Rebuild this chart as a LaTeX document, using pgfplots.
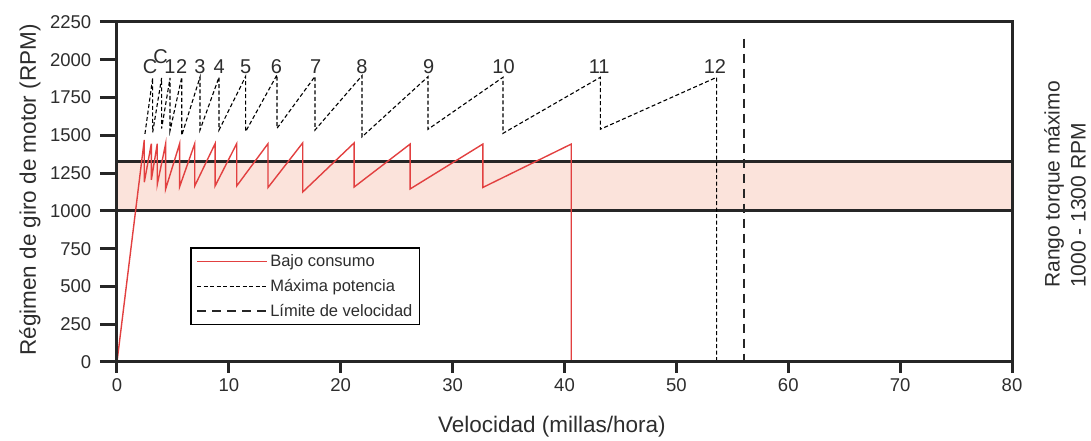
\documentclass[border=0pt]{standalone}
\usepackage{fontspec}
\setmainfont{Liberation Sans}
\usepackage{pgfplots}
\pgfplotsset{compat=1.18}
\definecolor{rojo}{RGB}{226,64,64}
\definecolor{banda}{RGB}{251,227,219}
\definecolor{texto}{RGB}{45,45,45}

\begin{document}
\begin{tikzpicture}
\begin{axis}[
  name=ax,
  scale only axis,
  width=895pt, height=340pt,
  xmin=0, xmax=80, ymin=0, ymax=2250,
  xtick={0,10,...,80},
  ytick={0,250,...,2250},
  axis line style={line width=3pt, black!85},
  tick align=outside,
  xtick pos=bottom, ytick pos=left,
  x tick style={line width=3pt, black!85, /pgfplots/major tick length=11pt},
  y tick style={line width=3pt, black!85, /pgfplots/major tick length=17pt},
  tick label style={font=\fontsize{18.5}{20}\selectfont, text=texto},
  xticklabel style={yshift=-8.5pt},
  yticklabel style={xshift=-18pt},
  /pgf/number format/assume math mode=true,
  /pgf/number format/1000 sep={},
  xlabel={Velocidad (millas/hora)},
  ylabel={Régimen de giro de motor (RPM)},
  x label style={at={(axis description cs:0.486,-0.191)}, anchor=center,
    font=\fontsize{22.5}{24}\selectfont, text=texto},
  y label style={at={(axis description cs:-0.0972,0.506)}, anchor=center,
    font=\fontsize{22.5}{24}\selectfont, text=texto},
  clip=false,
  axis on top,
  unbounded coords=jump,
  legend image code/.code={\draw[#1] (0pt,0pt) -- (70pt,0pt);},
  legend style={at={(rel axis cs:0.0816,0.338)}, anchor=north west,
    draw=black, line width=1.5pt, font=\fontsize{16.5}{18}\selectfont,
    text=texto, inner xsep=5pt, inner ysep=5pt, row sep=7pt,
    cells={anchor=west}},
]

% marcas de los ejes (11pt abajo, 17pt a la izquierda)
\addplot[line width=3pt, black!85, forget plot] coordinates {
  (0,0) (0,-72.8) (0,nan) (10,0) (10,-72.8) (10,nan)
  (20,0) (20,-72.8) (20,nan) (30,0) (30,-72.8) (30,nan)
  (40,0) (40,-72.8) (40,nan) (50,0) (50,-72.8) (50,nan)
  (60,0) (60,-72.8) (60,nan) (70,0) (70,-72.8) (70,nan)
  (80,0) (80,-72.8)
};
\addplot[line width=3pt, black!85, forget plot] coordinates {
  (0,0) (-1.52,0) (nan,0) (0,250) (-1.52,250) (nan,250)
  (0,500) (-1.52,500) (nan,500) (0,750) (-1.52,750) (nan,750)
  (0,1000) (-1.52,1000) (nan,1000) (0,1250) (-1.52,1250) (nan,1250)
  (0,1500) (-1.52,1500) (nan,1500) (0,1750) (-1.52,1750) (nan,1750)
  (0,2000) (-1.52,2000) (nan,2000) (0,2250) (-1.52,2250)
};

% banda de torque maximo
\addplot[fill=banda, draw=none, forget plot] coordinates {
  (0,1000) (80,1000) (80,1325) (0,1325)} -- cycle;
\addplot[line width=3pt, black!85, forget plot] coordinates {(0,1000) (80,1000)};
\addplot[line width=3pt, black!85, forget plot] coordinates {(0,1325) (80,1325)};

% Bajo consumo
\addplot[rojo, line width=1.4pt] coordinates {
  (0,0) (2.44,1470) (2.44,1190)
  (3.07,1445) (3.07,1205)
  (3.60,1445) (3.60,1175)
  (4.35,1445) (4.35,1145)
  (5.60,1445) (5.60,1160)
  (6.95,1445) (6.95,1165)
  (8.77,1445) (8.77,1165)
  (10.7,1445) (10.7,1165)
  (13.5,1445) (13.5,1155)
  (16.6,1450) (16.6,1125)
  (21.2,1450) (21.2,1158)
  (26.2,1442) (26.2,1145)
  (32.7,1442) (32.7,1155)
  (40.6,1442) (40.6,0)
};
\addlegendentry{Bajo consumo}

% Maxima potencia
\addplot[black, line width=1.1pt, dash pattern=on 4pt off 2.5pt] coordinates {
  (2.5,1510) (3.19,1880) (3.19,1520)
  (3.99,1880) (3.99,1545)
  (4.74,1880) (4.74,1530)
  (5.79,1885) (5.79,1500)
  (7.42,1885) (7.42,1535)
  (9.12,1885) (9.12,1535)
  (11.5,1890) (11.5,1525)
  (14.3,1900) (14.3,1546)
  (17.7,1890) (17.7,1535)
  (21.9,1895) (21.9,1490)
  (27.8,1888) (27.8,1540)
  (34.5,1884) (34.5,1513)
  (43.2,1884) (43.2,1540)
  (53.6,1884) (53.6,0)
};
\addlegendentry{Máxima potencia}

% Limite de velocidad
\addplot[black!85, line width=2.5pt, dash pattern=on 9pt off 6pt] coordinates {
  (56.05,2140) (56.05,0)};
\addlegendentry{Límite de velocidad}

% marchas
\begin{scope}[every node/.style={anchor=base, inner sep=0pt, text=texto,
    font=\fontsize{20}{20}\selectfont}]
\node at (axis cs:2.95,1911) {C};
\node at (axis cs:3.90,1975) {C};
\node at (axis cs:4.74,1911) {1};
\node at (axis cs:5.79,1911) {2};
\node at (axis cs:7.42,1911) {3};
\node at (axis cs:9.14,1911) {4};
\node at (axis cs:11.5,1911) {5};
\node at (axis cs:14.25,1911) {6};
\node at (axis cs:17.75,1911) {7};
\node at (axis cs:21.9,1911) {8};
\node at (axis cs:27.85,1911) {9};
\node at (axis cs:34.55,1911) {10};
\node at (axis cs:43.1,1911) {11};
\node at (axis cs:53.45,1911) {12};
\end{scope}

\node[rotate=90, anchor=west, align=left, inner sep=0pt, text=texto,
  font=\fontsize{21}{26}\selectfont] at (rel axis cs:1.0592,0.2176)
  {Rango torque máximo\\1000 - 1300 RPM};
\end{axis}
% margen como en la referencia
\path ([shift={(-117pt,-78pt)}]ax.south west)
  rectangle ([shift={(79pt,22pt)}]ax.north east);
\end{tikzpicture}
\end{document}
